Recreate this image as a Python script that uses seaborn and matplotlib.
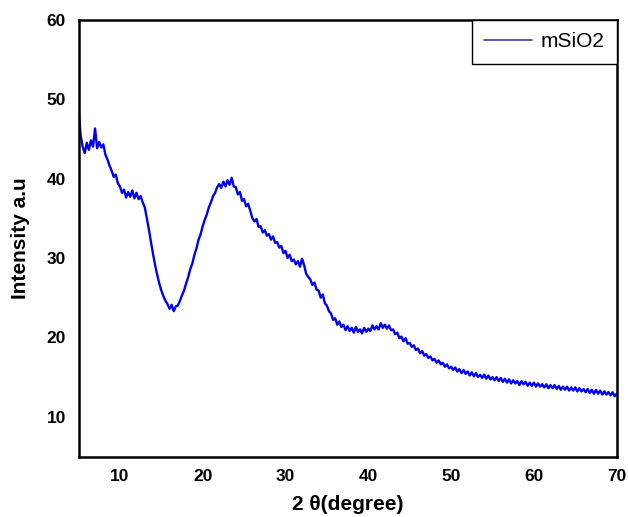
import numpy as np
import pandas as pd
import matplotlib
matplotlib.use('Agg')
import matplotlib.pyplot as plt
import seaborn as sns
from matplotlib.lines import Line2D

# Difratograma: 2θ de 5 a 70 graus, passo de 0.25
passo = 0.25
inicio = 5.0
intensidade = [
    49.0, 45.5, 44.0, 43.2,
    44.5, 43.6, 44.8, 44.0,
    46.3, 43.8, 44.6, 43.9,
    44.3, 43.0, 42.4, 41.6,
    41.0, 40.2, 40.5, 39.4,
    39.0, 38.2, 38.6, 37.6,
    38.3, 37.7, 38.5, 37.5,
    38.2, 37.4, 37.8, 37.0,
    36.4, 35.0, 33.6, 32.0,
    30.5, 29.1, 27.9, 26.8,
    25.9, 25.2, 24.6, 24.2,
    23.6, 24.1, 23.3, 23.9,
    24.0, 24.6, 25.3, 25.9,
    26.8, 27.6, 28.6, 29.3,
    30.4, 31.2, 32.3, 33.0,
    34.0, 34.8, 35.5, 36.4,
    37.0, 37.8, 38.2, 38.9,
    39.3, 38.8, 39.6, 39.0,
    39.8, 39.2, 40.1, 39.0,
    38.9, 38.0, 38.3, 37.2,
    37.4, 36.5, 36.8, 35.9,
    35.0, 34.6, 34.9, 33.9,
    34.0, 33.2, 33.5, 32.8,
    33.0, 32.3, 32.7, 31.9,
    32.0, 31.3, 31.5, 30.6,
    30.9, 30.0, 30.4, 29.6,
    29.8, 29.2, 29.6, 28.9,
    29.9, 29.1, 28.0, 27.6,
    27.3, 26.6, 26.9, 26.0,
    25.9, 25.0, 25.4, 24.3,
    24.0, 23.3, 23.0, 22.2,
    22.4, 21.6, 22.0, 21.3,
    21.6, 20.9, 21.4, 20.8,
    21.2, 20.6, 21.3, 20.7,
    21.0, 20.5, 21.2, 20.7,
    21.1, 20.8, 21.5, 21.0,
    21.4, 21.0, 21.8, 21.2,
    21.6, 21.1, 21.5, 20.9,
    21.0, 20.4, 20.6, 19.9,
    20.1, 19.5, 19.9, 19.2,
    19.3, 18.8, 19.0, 18.4,
    18.6, 18.0, 18.3, 17.7,
    17.9, 17.4, 17.6, 17.1,
    17.3, 16.8, 17.1, 16.6,
    16.8, 16.3, 16.6, 16.1,
    16.3, 15.9, 16.2, 15.7,
    16.0, 15.5, 15.9, 15.4,
    15.7, 15.2, 15.6, 15.1,
    15.5, 15.0, 15.3, 14.9,
    15.3, 14.8, 15.2, 14.7,
    15.0, 14.6, 15.0, 14.5,
    14.9, 14.4, 14.8, 14.3,
    14.7, 14.2, 14.6, 14.2,
    14.5, 14.0, 14.5, 14.1,
    14.4, 13.9, 14.3, 13.9,
    14.3, 13.8, 14.2, 13.8,
    14.1, 13.7, 14.1, 13.6,
    14.0, 13.6, 14.0, 13.5,
    13.9, 13.4, 13.8, 13.4,
    13.8, 13.3, 13.7, 13.3,
    13.7, 13.2, 13.6, 13.2,
    13.5, 13.1, 13.5, 13.0,
    13.4, 12.9, 13.4, 12.9,
    13.3, 12.8, 13.2, 12.8,
    13.1, 12.7, 13.1, 12.6,
    12.9,
]
ticks_x = [10, 20, 30, 40, 50, 60, 70]
ticks_y = [10, 20, 30, 40, 50, 60]

dois_theta = inicio + passo * np.arange(len(intensidade))
dados = pd.DataFrame({'2theta': dois_theta, 'I': intensidade})

sns.set_style('white')
plt.rcParams['font.family'] = ['Liberation Sans', 'DejaVu Sans']
plt.rcParams['text.color'] = 'black'
plt.rcParams['axes.labelcolor'] = 'black'
plt.rcParams['xtick.color'] = 'black'
plt.rcParams['ytick.color'] = 'black'

fig = plt.figure(figsize=(6.28, 5.17), dpi=100)
ax = fig.add_axes([0.125, 0.117, 0.857, 0.845])

sns.lineplot(data=dados, x='2theta', y='I', color='#0000ee', lw=1.7, ax=ax)

ax.set_xlim(5, 70)
ax.set_ylim(5, 60)
ax.set_xticks(ticks_x)
ax.set_yticks(ticks_y)
ax.tick_params(length=0, labelsize=12.5, pad=9)
for lab in ax.get_xticklabels() + ax.get_yticklabels():
    lab.set_fontweight('bold')
for s in ax.spines.values():
    s.set_color('black')
    s.set_linewidth(1.8)

ax.set_xlabel('2 θ(degree)', fontsize=15, fontweight='bold', labelpad=8)
ax.set_ylabel('Intensity a.u', fontsize=15, fontweight='bold', labelpad=12)

handle = [Line2D([0], [0], color='#3a3aa8', lw=1.2)]
leg = ax.legend(handle, ['mSiO2'], loc='upper right', borderaxespad=0.0,
                fancybox=False, framealpha=1, edgecolor='black',
                fontsize=15, handlelength=2.3, handletextpad=0.4,
                borderpad=0.6)
leg.get_frame().set_linewidth(1.0)

fig.savefig('out.png', dpi=100)
